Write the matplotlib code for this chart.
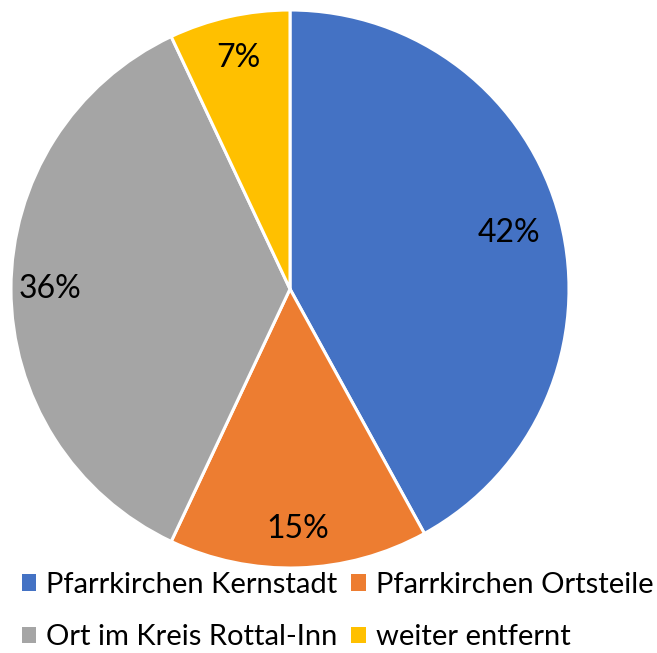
import numpy as np
import matplotlib.pyplot as plt
from matplotlib.patches import Patch

plt.rcParams['font.family'] = ['Lato', 'DejaVu Sans']

labels = ["Pfarrkirchen Kernstadt", "Pfarrkirchen Ortsteile",
          "Ort im Kreis Rottal-Inn", "weiter entfernt"]
shares = [42, 15, 36, 7]
colors = ["#4472C4", "#ED7D31", "#A5A5A5", "#FFC000"]
label_dist = [0.81, 0.86, 0.86, 0.85]

fig = plt.figure(figsize=(6.57, 6.53), dpi=100)
ax = fig.add_axes([11 / 657, 1 - 568 / 653, 558 / 657, 558 / 653])

wedges, _ = ax.pie(shares, colors=colors, startangle=90, counterclock=False,
                   radius=1, wedgeprops=dict(edgecolor="white", linewidth=2.2))
ax.set_xlim(-1.0, 1.0)
ax.set_ylim(-1.0, 1.0)
ax.set_aspect("auto")
ax.axis("off")

# percentage labels at the middle angle of each wedge
for w, v, d in zip(wedges, shares, label_dist):
    mid = np.deg2rad((w.theta1 + w.theta2) / 2)
    ax.text(d * np.cos(mid), d * np.sin(mid), f"{v}%", ha="center", va="center",
            fontsize=23, color="black")

# legend fills column-wise, so reorder to get two entries per row
order = [0, 2, 1, 3]
handles = [Patch(facecolor=colors[i], edgecolor="none") for i in order]
fig.legend(handles, [labels[i] for i in order], ncol=2, loc="center left",
           bbox_to_anchor=(21.7 / 657, 1 - 611 / 653), frameon=False,
           fontsize=21, borderpad=0, borderaxespad=0,
           handlelength=0.5, handleheight=0.5, handletextpad=0.35,
           columnspacing=0.45, labelspacing=0.92)

fig.savefig("out.png", dpi=100)
